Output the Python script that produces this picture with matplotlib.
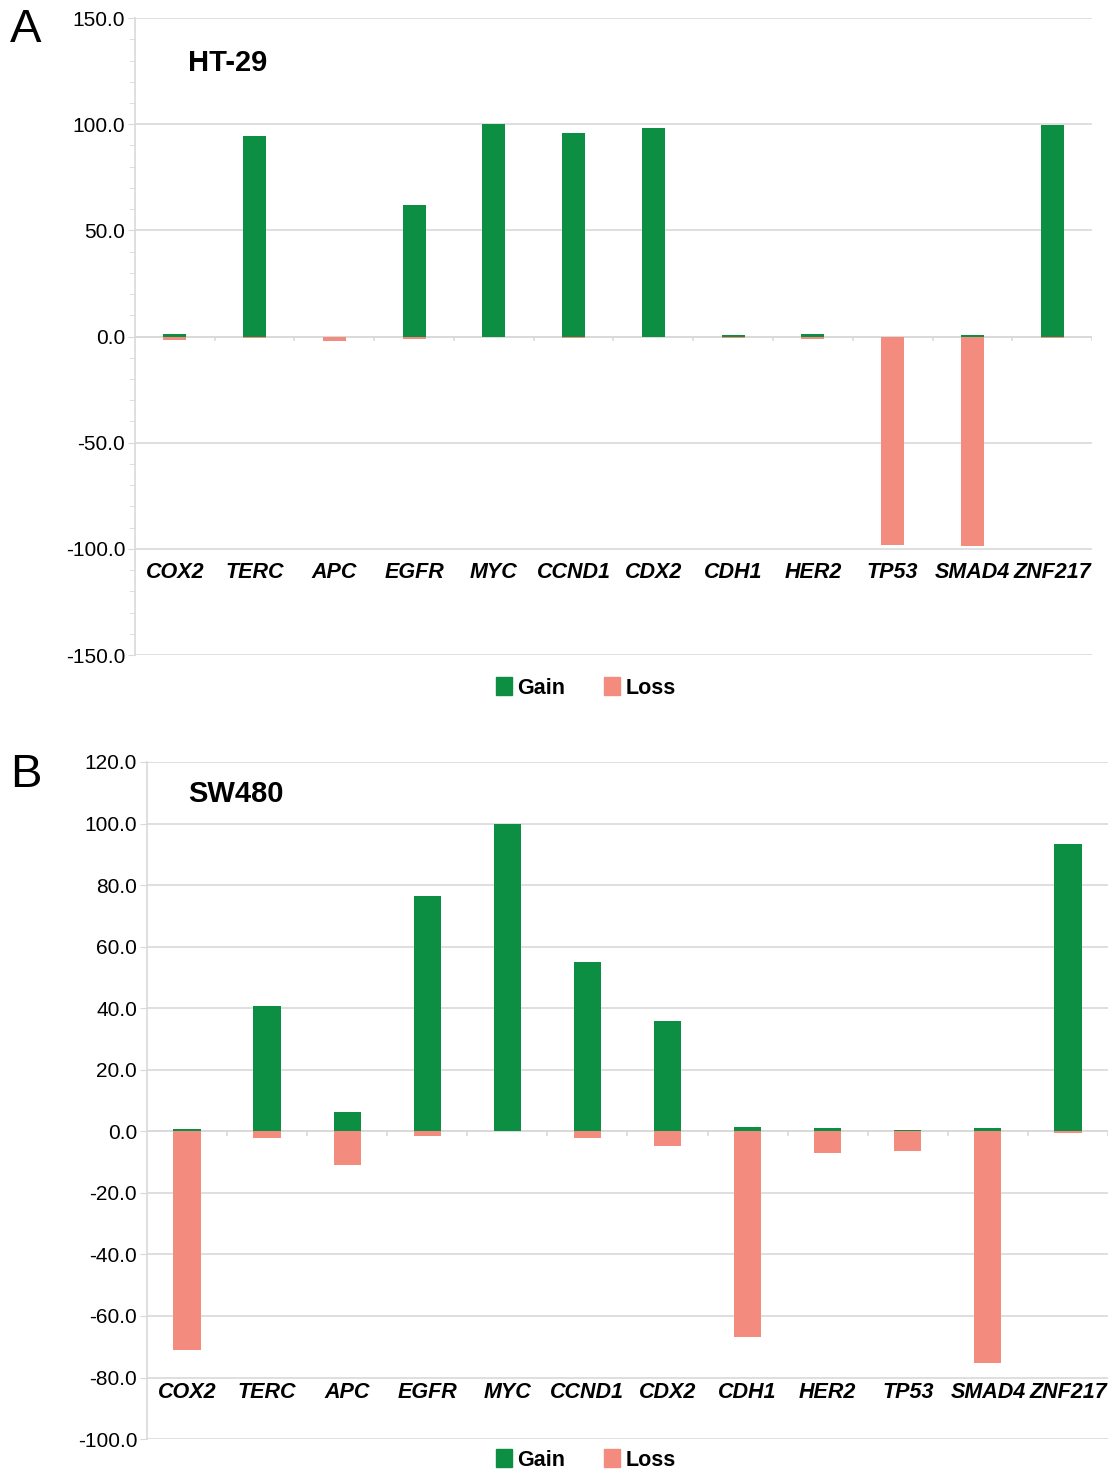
import numpy as np
import matplotlib
matplotlib.use("Agg")
import matplotlib.pyplot as plt
from matplotlib.ticker import MultipleLocator
from matplotlib.patches import Patch

genes = ["COX2", "TERC", "APC", "EGFR", "MYC", "CCND1", "CDX2",
         "CDH1", "HER2", "TP53", "SMAD4", "ZNF217"]

# HT-29
ht29_gain = [1.0, 94.3, 0.0, 61.8, 100.0, 95.8, 98.0, 0.5, 1.0, 0.0, 0.5, 99.5]
ht29_loss = [-1.5, -0.5, -2.0, -1.0, 0.0, -0.5, 0.0, -0.5, -1.0, -98.0, -98.6, -0.5]

# SW480
sw480_gain = [0.7, 40.6, 6.2, 76.6, 100.0, 54.9, 35.7, 1.3, 1.0, 0.5, 1.0, 93.2]
sw480_loss = [-71.0, -2.3, -11.0, -1.6, 0.0, -2.3, -4.9, -66.9, -7.1, -6.5, -75.3, -0.5]

GREEN = "#0c8e43"
SALMON = "#f38c7e"
GRID = "#d9d9d9"

plt.rcParams["font.family"] = ["Liberation Sans", "DejaVu Sans"]
plt.rcParams["hatch.color"] = "#f6a99d"
plt.rcParams["hatch.linewidth"] = 0.6

fig = plt.figure(figsize=(11.1, 14.79), dpi=100)


def panel(rect, gain, loss, ylim, major, minor, label_y, title, title_xy, letter,
          letter_y, width, legend_y):
    ax = fig.add_axes(rect)
    x = np.arange(len(genes))
    ax.bar(x, loss, width=width, color=SALMON, hatch="////", edgecolor=SALMON, linewidth=0, zorder=3)
    ax.bar(x, gain, width=width, color=GREEN, linewidth=0, zorder=3)
    ax.set_xlim(-0.5, len(genes) - 0.5)
    ax.set_ylim(*ylim)
    ax.yaxis.set_major_locator(MultipleLocator(major))
    if minor:
        ax.yaxis.set_minor_locator(MultipleLocator(minor))
    ax.yaxis.set_major_formatter(matplotlib.ticker.FormatStrFormatter("%.1f"))
    ax.grid(axis="y", color=GRID, linewidth=1.2, zorder=0)
    for s in ["top", "right", "bottom"]:
        ax.spines[s].set_visible(False)
    ax.spines["left"].set_color(GRID)
    ax.spines["left"].set_linewidth(1.2)
    ax.tick_params(axis="y", which="major", length=5, color=GRID, labelsize=15, pad=2)
    ax.tick_params(axis="y", which="minor", length=4, color=GRID)
    ax.set_xticks([])
    # zero line with category boundary ticks
    ax.axhline(0, color=GRID, linewidth=1.2, zorder=2)
    tick_len = (ylim[1] - ylim[0]) * 0.006
    for b in np.arange(0.5, len(genes), 1.0):
        ax.plot([b, b], [0, -tick_len], color=GRID, linewidth=1.2, zorder=2)
    for i, g in enumerate(genes):
        ax.text(i, label_y, g, ha="center", va="center", fontsize=15.5,
                fontweight="bold", fontstyle="italic")
    ax.text(title_xy[0], title_xy[1], title, transform=ax.transAxes, fontsize=21,
            fontweight="bold", ha="left", va="center")
    fig.text(0.009, letter_y, letter, fontsize=34, ha="left", va="center")
    handles = [Patch(facecolor=GREEN, edgecolor=GREEN, label="Gain"),
               Patch(facecolor=SALMON, edgecolor=SALMON, label="Loss")]
    fig.legend(handles=handles, loc="center", bbox_to_anchor=(0.528, legend_y), ncol=2,
               frameon=False, prop={"size": 15.5, "weight": "bold"},
               handlelength=0.75, handleheight=0.9, handletextpad=0.25, columnspacing=1.8)
    return ax


panel([0.1216, 0.5571, 0.8622, 0.4307], ht29_gain, ht29_loss, (-150, 150), 50, 10,
      -111, "HT-29", (0.055, 0.929), "A", 1 - 30 / 1479, 0.29, 1 - 688 / 1479)
panel([0.1324, 0.0270, 0.8658, 0.4578], sw480_gain, sw480_loss, (-100, 120), 20, None,
      -85, "SW480", (0.043, 0.953), "B", 1 - 775 / 1479, 0.34, 1 - 1460 / 1479)

fig.savefig("out.png", dpi=100)
